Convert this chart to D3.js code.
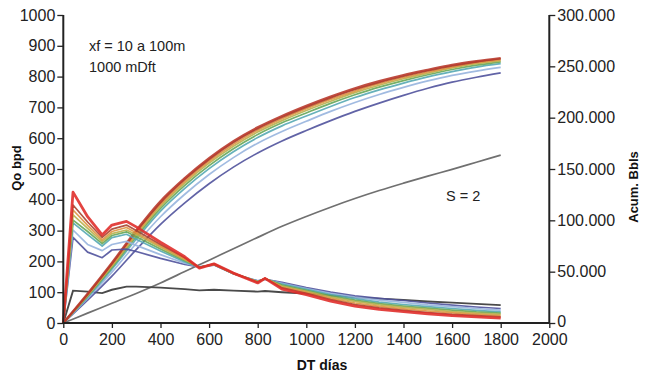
<!DOCTYPE html>
<html>
<head>
<meta charset="utf-8">
<script src="https://cdn.jsdelivr.net/npm/d3@7"></script>
<style>
  html, body { margin: 0; padding: 0; background: #fff; }
  svg { display: block; font-family: "Liberation Sans", Arial, sans-serif; }
</style>
</head>
<body>
<svg id="chart" width="653" height="378"></svg>
<script>
// ---------- data ----------
const xTicks = [0, 200, 400, 600, 800, 1000, 1200, 1400, 1600, 1800, 2000];
const leftTicks = [0, 100, 200, 300, 400, 500, 600, 700, 800, 900, 1000];
const rightTicks = [0, 50000, 100000, 150000, 200000, 250000, 300000];

const seriesNames = ["xf100", "xf90", "xf80", "xf70", "xf60", "xf50", "xf30", "xf10"];
const seriesColors = ["#e0302c", "#a8452f", "#df9340", "#b8b04c", "#66a657", "#55a8b3", "#97b4de", "#50529c"];

const rateDays = [0, 40, 100, 160, 200, 260, 300, 400, 500, 560, 620, 700, 800, 830, 900, 1000, 1100, 1200, 1300, 1400, 1500, 1600, 1700, 1800];
const rate1 = [0, 425, 345, 286, 318, 330, 312, 262, 215, 178, 192, 162, 130, 145, 110, 92, 71, 55, 44, 37, 30, 24, 20, 16];
const rate2 = [0, 383, 328, 278, 305, 318, 300, 255, 212, 180, 192, 162, 132, 145, 114, 96, 76, 60, 49, 41, 34, 28, 24, 20];
const rate3 = [0, 367, 317, 270, 297, 310, 293, 250, 208, 180, 191, 161, 133, 145, 117, 100, 80, 65, 54, 46, 39, 33, 28, 24];
const rate4 = [0, 351, 307, 264, 290, 302, 287, 246, 205, 181, 191, 161, 134, 144, 120, 103, 84, 70, 59, 51, 44, 37, 32, 28];
const rate5 = [0, 334, 297, 258, 284, 296, 280, 240, 202, 181, 190, 161, 134, 144, 123, 106, 88, 74, 63, 55, 48, 42, 36, 32];
const rate6 = [0, 325, 287, 250, 277, 288, 272, 234, 198, 181, 190, 160, 135, 143, 126, 109, 92, 79, 68, 60, 53, 47, 41, 36];
const rate7 = [0, 302, 255, 235, 255, 265, 252, 222, 194, 182, 189, 160, 136, 142, 129, 112, 96, 84, 74, 67, 59, 53, 47, 42];
const rate8 = [0, 278, 230, 212, 237, 240, 232, 210, 190, 182, 188, 160, 137, 142, 132, 115, 100, 88, 80, 73, 65, 58, 52, 47];
const rateS2 = [0, 105, 102, 97, 108, 118, 118, 115, 110, 106, 108, 105, 102, 104, 100, 96, 90, 84, 79, 75, 70, 66, 62, 58];

const cumDays = [0, 100, 200, 300, 400, 500, 600, 700, 800, 900, 1000, 1100, 1200, 1300, 1400, 1500, 1600, 1700, 1800];
const cum1 = [0, 28500, 58500, 90000, 118500, 141000, 160500, 177000, 190500, 201600, 211500, 220500, 228600, 235500, 241500, 246600, 251400, 255000, 258000];
const cum2 = [0, 27900, 57600, 88800, 117000, 139800, 159300, 175800, 189300, 200400, 210300, 219300, 227400, 234300, 240300, 245700, 250500, 254400, 257400];
const cum3 = [0, 27300, 56400, 87300, 115500, 138000, 157500, 174000, 187800, 198900, 208800, 217800, 225900, 233100, 239100, 244500, 249300, 253500, 256500];
const cum4 = [0, 26700, 55200, 85800, 113700, 136200, 155700, 172200, 186000, 197100, 207000, 216000, 224400, 231600, 237900, 243300, 248400, 252600, 255600];
const cum5 = [0, 26100, 54000, 84000, 111600, 134100, 153300, 169800, 183600, 195000, 204600, 213900, 222300, 229800, 236100, 241800, 246900, 251100, 254400];
const cum6 = [0, 25200, 52500, 81600, 108900, 131100, 150300, 166800, 180600, 192000, 201600, 210900, 219600, 227100, 233700, 239700, 244800, 249300, 252600];
const cum7 = [0, 24000, 49500, 77400, 103500, 125400, 144600, 161100, 175200, 186600, 196500, 206100, 214800, 222600, 229500, 235800, 241200, 245400, 249000];
const cum8 = [0, 22200, 45600, 71400, 96000, 117000, 135600, 151800, 165600, 177300, 187500, 197100, 206100, 214200, 221700, 228600, 234600, 239400, 243600];
const cumS2 = [0, 9600, 19200, 28800, 39000, 50100, 61200, 72300, 83400, 94200, 103800, 112800, 121200, 129000, 136200, 143100, 149700, 156600, 163500];

const rateSeries = [rate1, rate2, rate3, rate4, rate5, rate6, rate7, rate8];
const cumSeries = [cum1, cum2, cum3, cum4, cum5, cum6, cum7, cum8];

// ---------- chart ----------
const svg = d3.select("#chart");
const L = 63.3, R = 549.3, T = 15, B = 323;

const x = d3.scaleLinear().domain([0, 2000]).range([L, R]);
const yL = d3.scaleLinear().domain([0, 1000]).range([B, T]);
const yR = d3.scaleLinear().domain([0, 300000]).range([B, T]);

const esFmt = d3.formatLocale({decimal: ",", thousands: ".", grouping: [3], currency: ["", ""]}).format(",d");

const plot = svg.append("g");

const rateLine = d3.line().x(d => x(d[0])).y(d => yL(d[1]));
const cumLine = d3.line().x(d => x(d[0])).y(d => yR(d[1])).curve(d3.curveMonotoneX);

// S=2 curves (gray)
plot.append("path")
  .attr("d", cumLine(cumDays.map((d, i) => [d, cumS2[i]])))
  .attr("fill", "none").attr("stroke", "#707070").attr("stroke-width", 1.7);
plot.append("path")
  .attr("d", rateLine(rateDays.map((d, i) => [d, rateS2[i]])))
  .attr("fill", "none").attr("stroke", "#4a4a4a").attr("stroke-width", 1.9);

// cumulative curves, lowest first
for (let k = seriesNames.length - 1; k >= 0; k--) {
  plot.append("path")
    .attr("d", cumLine(cumDays.map((d, i) => [d, cumSeries[k][i]])))
    .attr("fill", "none").attr("stroke", k === 0 ? "#b83a2c" : seriesColors[k])
    .attr("stroke-opacity", 0.9)
    .attr("stroke-width", k === 0 ? 2.4 : 1.7);
}
// rate curves, lowest first, red on top
for (let k = seriesNames.length - 1; k >= 0; k--) {
  plot.append("path")
    .attr("d", rateLine(rateDays.map((d, i) => [d, rateSeries[k][i]])))
    .attr("fill", "none").attr("stroke", seriesColors[k])
    .attr("stroke-opacity", 0.9)
    .attr("stroke-linejoin", "round")
    .attr("stroke-width", k === 0 ? 2.8 : 1.7);
}

// axes
const axisColor = "#222";
const gx = svg.append("g").attr("transform", `translate(0,${B})`)
  .call(d3.axisBottom(x).tickValues(xTicks).tickFormat(d3.format("d")).tickSize(5).tickPadding(6));
const gl = svg.append("g").attr("transform", `translate(${L},0)`)
  .call(d3.axisLeft(yL).tickValues(leftTicks).tickFormat(d3.format("d")).tickSize(6).tickPadding(2));
const gr = svg.append("g").attr("transform", `translate(${R},0)`)
  .call(d3.axisRight(yR).tickValues(rightTicks).tickFormat(esFmt).tickSize(6).tickPadding(2));

[gx, gl, gr].forEach(g => {
  g.select(".domain").attr("stroke", axisColor).attr("stroke-width", 2);
  g.selectAll(".tick line").attr("stroke", axisColor).attr("stroke-width", 1.3);
  g.selectAll(".tick text").attr("fill", "#222").style("font-size", "16px")
    .style("font-family", "'Liberation Sans', Arial, sans-serif");
});
gx.select(".domain").attr("d", `M${L},0H${R}`);
gl.select(".domain").attr("d", `M0,${B}V${T}`);
gr.select(".domain").attr("d", `M0,${B}V${T}`);
// nudge right-axis "0" up slightly so it clears the "2000" label
gr.selectAll(".tick text").filter(d => d === 0).attr("dy", "0.2em");

// axis titles
svg.append("text").attr("transform", "translate(21,168) rotate(-90)")
  .attr("text-anchor", "middle").style("font-weight", "bold").style("font-size", "13px")
  .attr("fill", "#111").text("Qo bpd");
svg.append("text").attr("x", 322).attr("y", 370)
  .attr("text-anchor", "middle").style("font-weight", "bold").style("font-size", "14px")
  .attr("fill", "#111").text("DT días");
svg.append("text").attr("transform", "translate(638,187) rotate(-90)")
  .attr("text-anchor", "middle").style("font-weight", "bold").style("font-size", "13px")
  .attr("fill", "#111").text("Acum. Bbls");

// annotations
svg.append("text").attr("x", 89).attr("y", 51).style("font-size", "14.5px").attr("fill", "#222").text("xf = 10 a 100m");
svg.append("text").attr("x", 89).attr("y", 72).style("font-size", "14.5px").attr("fill", "#222").text("1000 mDft");
svg.append("text").attr("x", 446).attr("y", 201).style("font-size", "14.5px").attr("fill", "#222").text("S = 2");
</script>
</body>
</html>
